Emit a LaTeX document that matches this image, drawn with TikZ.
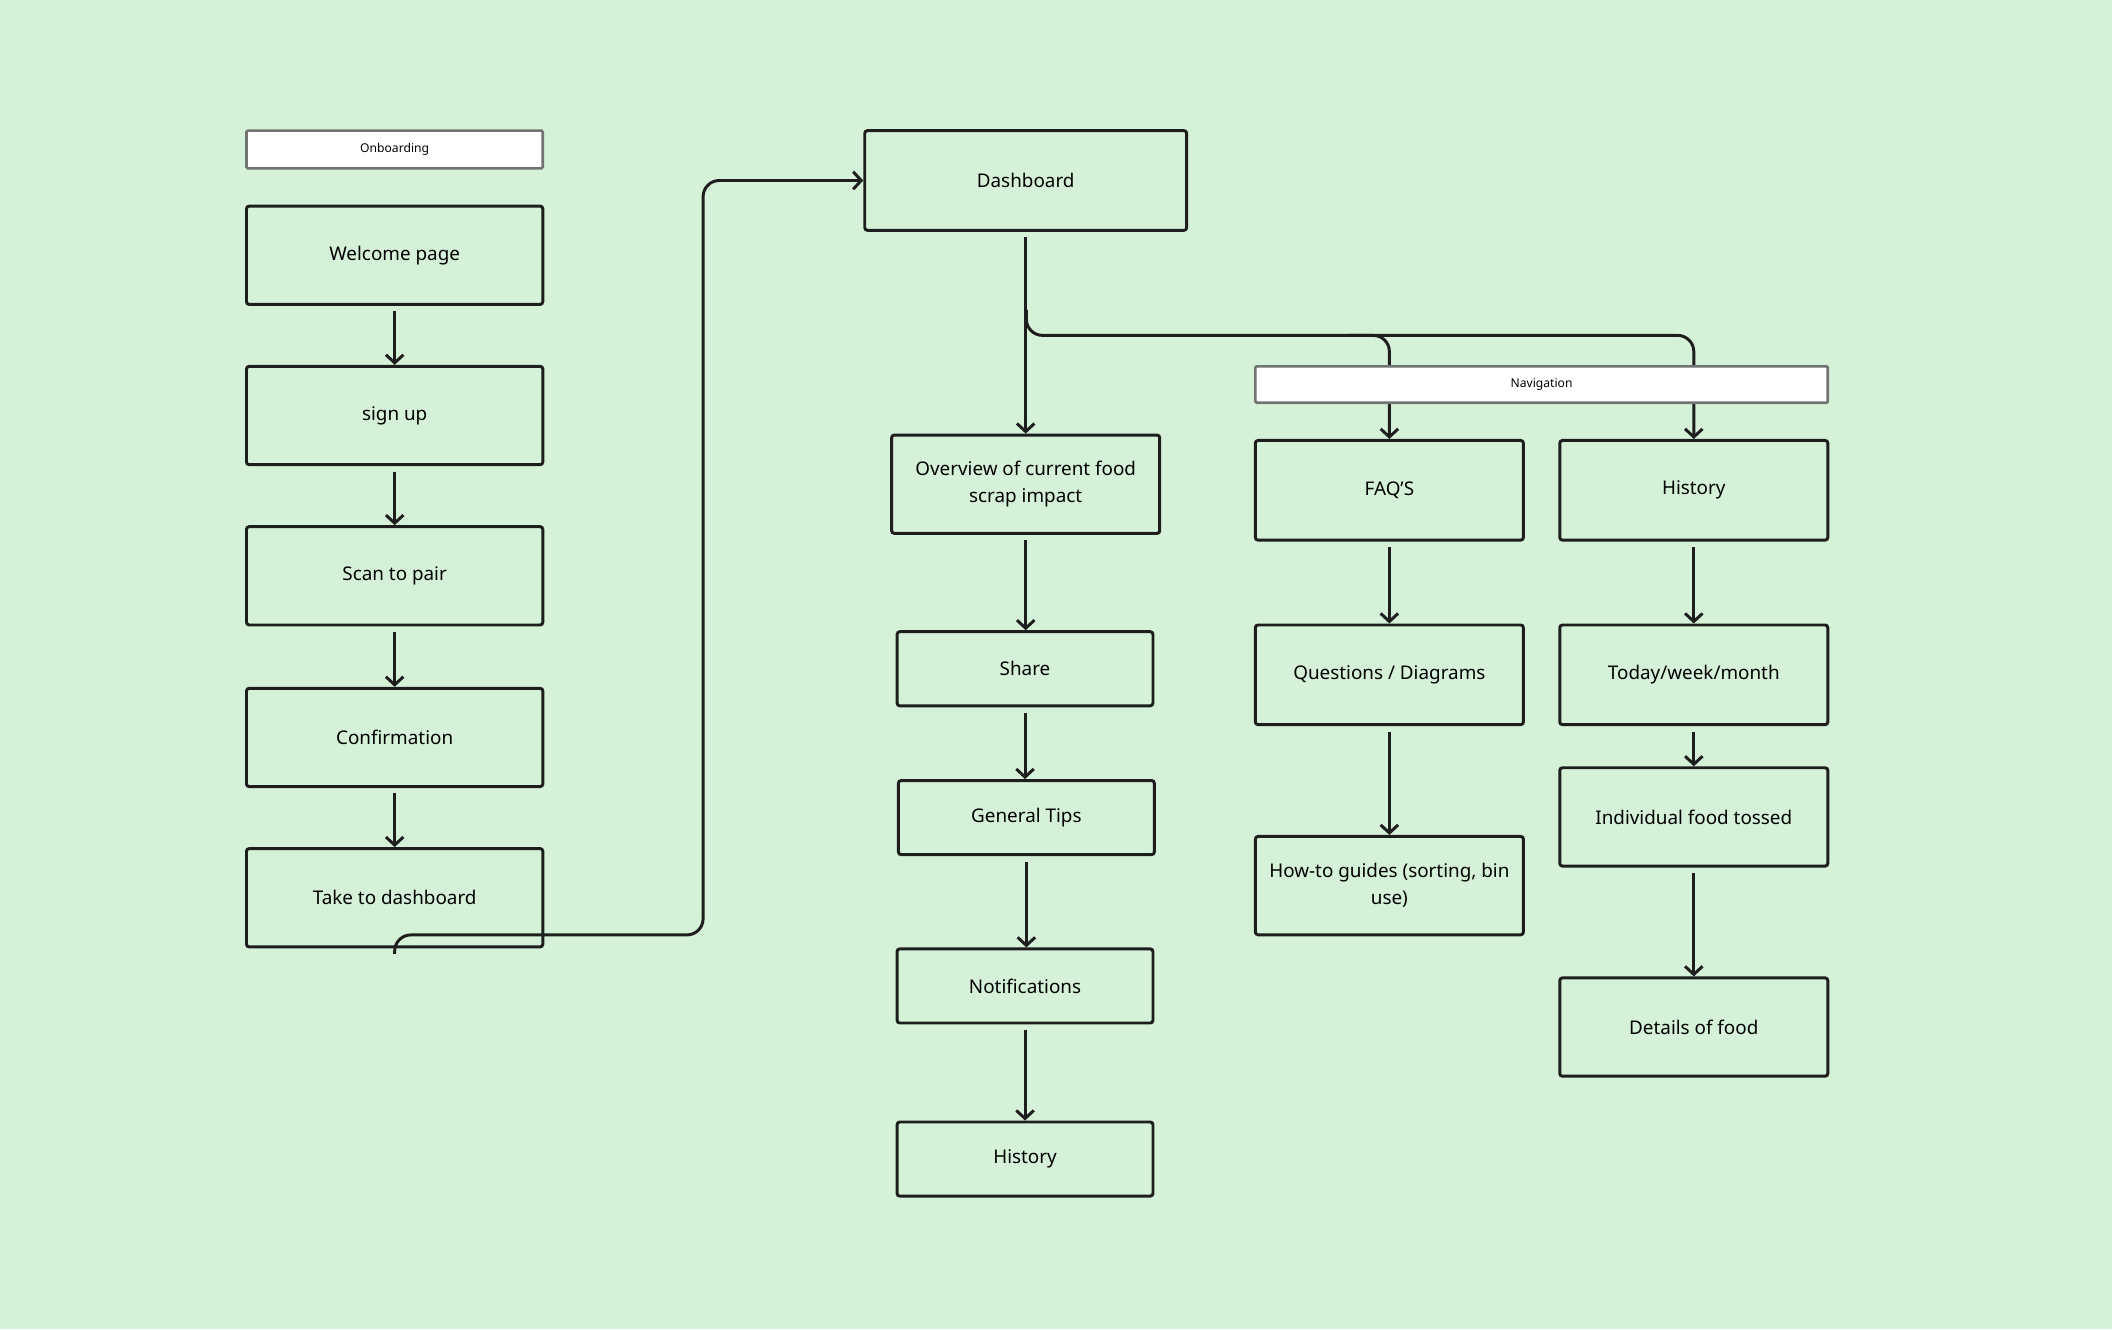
\documentclass[tikz,border=0pt]{standalone}
\usepackage{fontspec}
\setmainfont{Noto Sans}
\usetikzlibrary{arrows.meta}
\definecolor{bg}{HTML}{D5F2D8}
\definecolor{ink}{HTML}{1E1E1E}
\tikzset{
  box/.style={draw=ink,line width=2.2pt,rounded corners=2pt,minimum width=#1,align=center,font=\fontsize{14}{20}\selectfont},
  big/.style={box=199pt,minimum height=73pt},
  small/.style={box=190pt,minimum height=55pt},
  tag/.style={draw=gray!90!black,fill=white,line width=2pt,rounded corners=1pt,font=\fontsize{9}{11}\selectfont},
  link/.style={draw=ink,line width=2.2pt,-{Straight Barb[length=6pt,width=13pt,line width=2.2pt]},rounded corners=12pt},
}
\begin{document}
\begin{tikzpicture}[x=1pt,y=-1pt]
\fill[bg] (0,0) rectangle (1568,987);
\useasboundingbox (0,0) rectangle (1568,987);
% onboarding column
\node[tag,minimum width=220pt,minimum height=28pt] (onb) at (293,111) {Onboarding};
\node[big,minimum width=220pt] (welcome) at (293,189.5) {Welcome page};
\node[big,minimum width=220pt] (signup) at (293,308.5) {sign up};
\node[big,minimum width=220pt] (scan) at (293,427.5) {Scan to pair};
\node[big,minimum width=220pt] (confirm) at (293,547.5) {Confirmation};
\node[big,minimum width=220pt] (take) at (293,666.5) {Take to dashboard};
% dashboard column
\node[big,minimum width=239pt,minimum height=74pt] (dash) at (761.5,134) {Dashboard};
\node[big] (overview) at (761.5,359.5) {Overview of current food\\scrap impact};
\node[small] (share) at (761,496.5) {Share};
\node[small] (tips) at (762,607) {General Tips};
\node[small] (notif) at (761,732) {Notifications};
\node[small] (hist) at (761,860.5) {History};
% navigation
\node[big,minimum height=74pt] (faq) at (1031.5,364) {FAQ’S};
\node[big,minimum height=74pt] (navhist) at (1257.5,364) {History};
\node[big,minimum height=74pt] (quest) at (1031.5,501) {Questions / Diagrams};
\node[big] (howto) at (1031.5,657.5) {How-to guides (sorting, bin\\use)};
\node[big,minimum height=74pt] (period) at (1257.5,501) {Today/week/month};
\node[big] (tossed) at (1257.5,606.5) {Individual food tossed};
\node[big] (details) at (1257.5,762.5) {Details of food};
% connectors
\foreach \a/\b in {welcome/signup,signup/scan,scan/confirm,confirm/take,
  dash/overview,overview/share,share/tips,tips/notif,notif/hist,
  faq/quest,quest/howto,navhist/period,period/tossed,tossed/details}
  \draw[link] ([yshift=-4pt]\a.south) -- (\a.south |- \b.north);
\draw[link] ([yshift=-4pt]take.south) -- ++(0,-14) -| (522,134) -- (dash.west);
\draw[link] (762,230) |- (1031.5,249) -- (faq.north);
\draw[link] (1000,249) -| (navhist.north);
\node[tag,minimum width=425pt,minimum height=27pt] (nav) at (1144.5,285.5) {Navigation};
\end{tikzpicture}
\end{document}
